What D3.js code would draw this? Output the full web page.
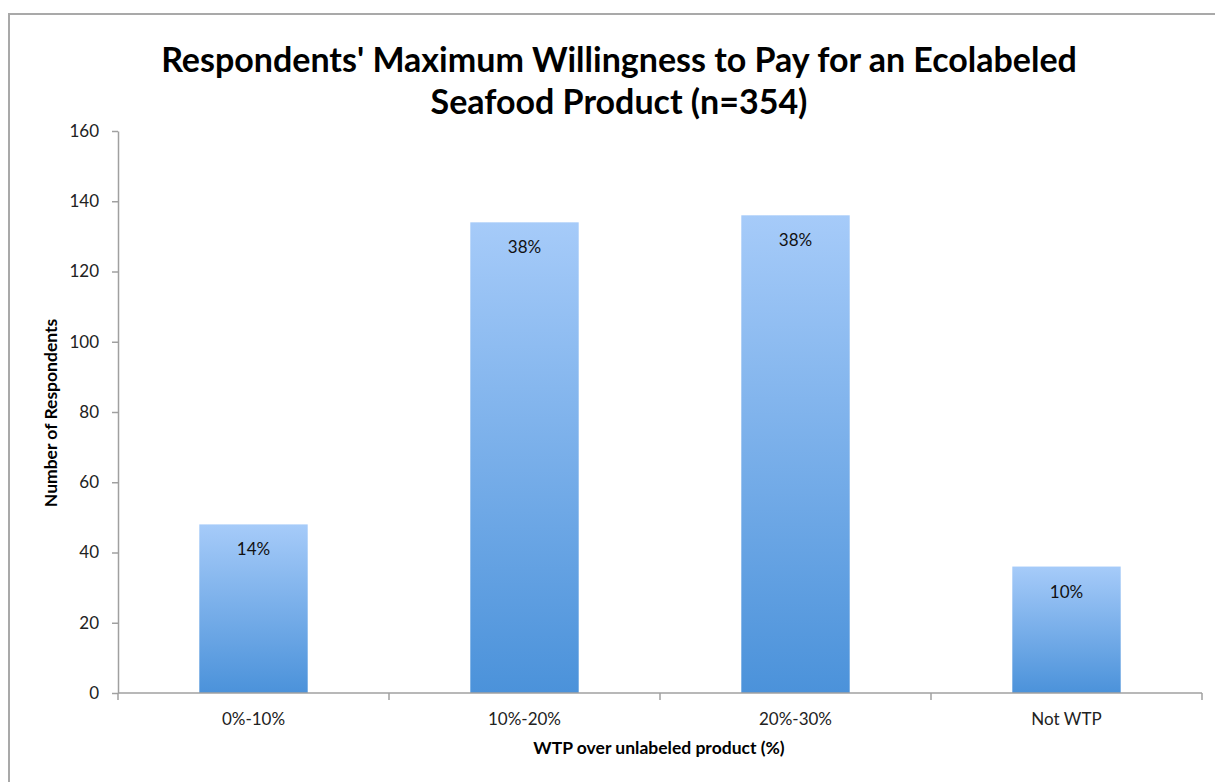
<!DOCTYPE html>
<html>
<head>
<meta charset="utf-8">
<script src="https://cdn.jsdelivr.net/npm/d3@7/dist/d3.min.js"></script>
<style>
  html, body { margin: 0; padding: 0; background: #fff; }
  svg { display: block; }
  text { font-family: Lato, "Open Sans", sans-serif; }
</style>
</head>
<body>
<svg id="chart" width="1215" height="782"></svg>
<script>
// Survey responses by maximum premium willing to pay
const categories = ["0%-10%", "10%-20%", "20%-30%", "Not WTP"];
const respondents = [48, 134, 136, 36];
const shareLabels = ["14%", "38%", "38%", "10%"];
const yTicks = [0, 20, 40, 60, 80, 100, 120, 140, 160];

const svg = d3.select("#chart");
const W = 1215, H = 782;
const plot = { left: 118, right: 1202, top: 131, bottom: 693 };

// Outer chart frame (runs off the right and bottom edges)
svg.append("rect")
  .attr("x", 9).attr("y", 14)
  .attr("width", W + 20).attr("height", H + 20)
  .attr("fill", "none").attr("stroke", "#a9a9a9").attr("stroke-width", 2);

// Vertical gradient used for every bar
const defs = svg.append("defs");
const grad = defs.append("linearGradient")
  .attr("id", "barFill").attr("x1", 0).attr("y1", 0).attr("x2", 0).attr("y2", 1);
grad.append("stop").attr("offset", "0%").attr("stop-color", "#a6cbf9");
grad.append("stop").attr("offset", "100%").attr("stop-color", "#4b92da");

const x = d3.scaleBand()
  .domain(categories)
  .range([plot.left, plot.right])
  .paddingInner(0.6)
  .paddingOuter(0.3);

const y = d3.scaleLinear()
  .domain([0, 160])
  .range([plot.bottom, plot.top]);

// Title
const title = svg.append("text")
  .attr("text-anchor", "middle")
  .attr("font-weight", "bold")
  .attr("font-size", 34)
  .attr("fill", "#000");
title.append("tspan").attr("x", 619).attr("y", 72)
  .text("Respondents' Maximum Willingness to Pay for an Ecolabeled");
title.append("tspan").attr("x", 619).attr("y", 114)
  .text("Seafood Product (n=354)");

// Bars
svg.append("g").selectAll("rect")
  .data(categories)
  .join("rect")
  .attr("x", d => x(d))
  .attr("y", (d, i) => y(respondents[i]))
  .attr("width", x.bandwidth())
  .attr("height", (d, i) => y(0) - y(respondents[i]))
  .attr("fill", "url(#barFill)");

// Share labels inside the top of each bar
svg.append("g").selectAll("text")
  .data(categories)
  .join("text")
  .attr("x", d => x(d) + x.bandwidth() / 2)
  .attr("y", (d, i) => y(respondents[i]) + 31)
  .attr("text-anchor", "middle")
  .attr("font-size", 17)
  .attr("fill", "#111")
  .text((d, i) => shareLabels[i]);

// Y axis
const yAxis = svg.append("g")
  .attr("transform", `translate(${plot.left},0)`)
  .call(d3.axisLeft(y).tickValues(yTicks).tickSize(6).tickPadding(13).tickSizeOuter(0));
yAxis.select(".domain").attr("stroke", "#a0a0a0").attr("stroke-width", 1.5);
yAxis.selectAll(".tick line").attr("stroke", "#a0a0a0").attr("stroke-width", 1.5);
yAxis.selectAll(".tick text")
  .attr("font-size", 17).attr("fill", "#222")
  .style("font-family", "Lato, 'Open Sans', sans-serif");

// X axis: baseline plus ticks at category boundaries
const xg = svg.append("g");
xg.append("line")
  .attr("x1", plot.left).attr("x2", plot.right)
  .attr("y1", y(0)).attr("y2", y(0))
  .attr("stroke", "#a0a0a0").attr("stroke-width", 1.5);
const boundaries = d3.range(categories.length + 1).map(i => plot.left + i * (plot.right - plot.left) / categories.length);
xg.selectAll("line.tick")
  .data(boundaries)
  .join("line")
  .attr("class", "tick")
  .attr("x1", d => d).attr("x2", d => d)
  .attr("y1", y(0)).attr("y2", y(0) + 7)
  .attr("stroke", "#a0a0a0").attr("stroke-width", 1.5);
xg.selectAll("text")
  .data(categories)
  .join("text")
  .attr("x", d => x(d) + x.bandwidth() / 2)
  .attr("y", y(0) + 32)
  .attr("text-anchor", "middle")
  .attr("font-size", 17)
  .attr("fill", "#222")
  .text(d => d);

// Axis titles
svg.append("text")
  .attr("x", 659).attr("y", 754)
  .attr("text-anchor", "middle")
  .attr("font-weight", "bold")
  .attr("font-size", 17.5)
  .attr("fill", "#000")
  .text("WTP over unlabeled product (%)");

svg.append("text")
  .attr("transform", "translate(57,413) rotate(-90)")
  .attr("text-anchor", "middle")
  .attr("font-weight", "bold")
  .attr("font-size", 17.5)
  .attr("fill", "#000")
  .text("Number of Respondents");
</script>
</body>
</html>
